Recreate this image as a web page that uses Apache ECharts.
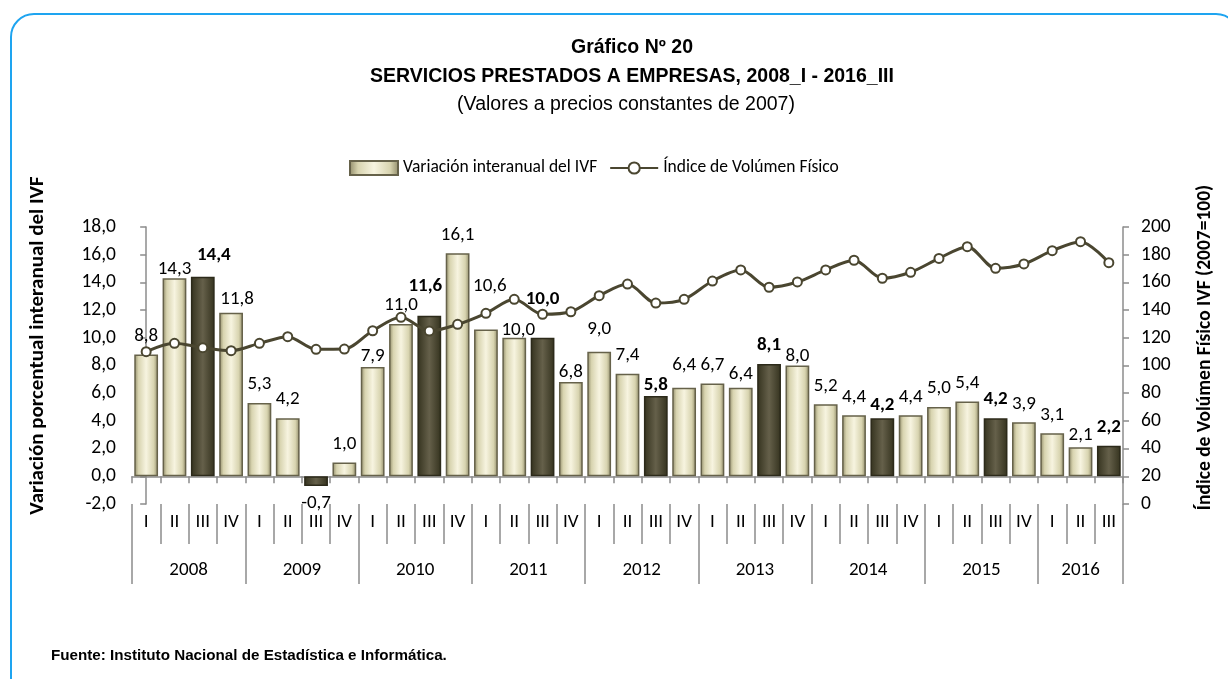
<!DOCTYPE html>
<html>
<head>
<meta charset="utf-8">
<script src="https://cdn.jsdelivr.net/npm/echarts@6/dist/echarts.min.js"></script>
<style>
  html, body { margin: 0; padding: 0; background: #fff; overflow: hidden; }
  #frame {
    position: absolute; left: 10px; top: 13px; width: 1230px; height: 700px;
    border: 2px solid #1ea4f0; border-radius: 24px; box-sizing: border-box;
  }
  #draw { position: absolute; left: 0; top: 0; width: 1228px; height: 679px; }
</style>
</head>
<body>
<div id="frame"></div>
<div id="draw"></div>
<script>
  // datos
  var quarters = ['I', 'II', 'III', 'IV', 'I', 'II', 'III', 'IV', 'I', 'II', 'III', 'IV',
    'I', 'II', 'III', 'IV', 'I', 'II', 'III', 'IV', 'I', 'II', 'III', 'IV',
    'I', 'II', 'III', 'IV', 'I', 'II', 'III', 'IV', 'I', 'II', 'III']
  var years = ['2008', '2009', '2010', '2011', '2012', '2013', '2014', '2015', '2016']
  var variacion = [8.8, 14.3, 14.4, 11.8, 5.3, 4.2, -0.7, 1.0, 7.9, 11.0, 11.6, 16.1,
    10.6, 10.0, 10.0, 6.8, 9.0, 7.4, 5.8, 6.4, 6.7, 6.4, 8.1, 8.0,
    5.2, 4.4, 4.2, 4.4, 5.0, 5.4, 4.2, 3.9, 3.1, 2.1, 2.2]
  var indice = [110.0, 116.0, 112.9, 110.7, 116.0, 120.8, 111.7, 111.9, 125.1, 134.8, 124.9, 129.7,
    137.7, 147.8, 137.0, 138.8, 150.4, 158.8, 145.1, 147.8, 161.0, 169.0, 156.5, 160.3,
    169.0, 176.0, 163.0, 167.3, 177.3, 185.8, 170.2, 173.3, 182.9, 189.4, 174.2]
  var leftTicks = { min: -2, max: 18, step: 2 }
  var rightTicks = { min: 0, max: 200, step: 20 }

  // ajustes manuales de etiquetas (px hacia arriba / derecha), como en el original
  var labelLift = { 1: -10, 2: 3, 3: -5, 8: -8, 10: 11, 12: 25, 13: -11, 14: 20, 15: -9, 16: 4,
    18: -8, 19: 4, 21: -5, 23: -9, 26: -6, 33: -7 }
  var labelShift = { 2: 11, 3: 6, 10: -4, 12: 4, 13: 4 }

  var labelFont = 'Carlito, Calibri, Lato, sans-serif'
  var lightBar = new echarts.graphic.LinearGradient(0, 0, 1, 0, [
    { offset: 0, color: '#8f8a68' },
    { offset: 0.18, color: '#d8d4b0' },
    { offset: 0.5, color: '#f7f4e0' },
    { offset: 0.82, color: '#d8d4b0' },
    { offset: 1, color: '#8f8a68' }
  ])
  var darkBar = new echarts.graphic.LinearGradient(0, 0, 1, 0, [
    { offset: 0, color: '#34321e' },
    { offset: 0.5, color: '#65604a' },
    { offset: 1, color: '#34321e' }
  ])

  function coma (v, d) {
    return v.toFixed(d).replace('.', ',')
  }

  var barData = variacion.map(function (v, i) {
    var item = { value: v, label: { offset: [labelShift[i] || 0, -(labelLift[i] || 0)] } }
    if (i % 4 === 2) {
      item.itemStyle = { color: darkBar, borderColor: '#2c2a1a' }
      if (v >= 0) item.label.fontWeight = 'bold'
    }
    if (v < 0) {
      item.label.position = 'bottom'
      item.label.distance = 8
    }
    return item
  })

  var yearTicks = []
  var yearLabels = []
  for (var y = 0; y < years.length; y++) {
    yearTicks.push(y * 4 - 0.5)
    var last = Math.min(y * 4 + 3, quarters.length - 1)
    yearLabels.push((y * 4 + last) / 2)
  }
  yearTicks.push(quarters.length - 0.5)

  var myChart = echarts.init(document.getElementById('draw'))
  myChart.setOption({
    animation: false,
    title: [{
      text: 'Gráfico Nº 20\nSERVICIOS PRESTADOS A EMPRESAS, 2008_I - 2016_III',
      left: 627,
      top: 28,
      textAlign: 'center',
      textStyle: { fontFamily: 'Liberation Sans', fontWeight: 'bold', fontSize: 19.5, lineHeight: 29, color: '#000' }
    }, {
      text: '(Valores a precios constantes de 2007)',
      left: 621,
      top: 90,
      textAlign: 'center',
      textStyle: { fontFamily: 'Liberation Sans', fontWeight: 'normal', fontSize: 19.5, color: '#000' }
    }, {
      text: 'Fuente: Instituto Nacional de Estadística e Informática.',
      left: 46,
      top: 643,
      textStyle: { fontFamily: 'Liberation Sans', fontWeight: 'bold', fontSize: 15.2, color: '#000' }
    }],
    legend: {
      left: 344,
      top: 154,
      itemWidth: 48,
      itemHeight: 14,
      itemGap: 12,
      textStyle: { fontFamily: labelFont, fontSize: 17.5, color: '#000' },
      data: [
        { name: 'Variación interanual del IVF', icon: 'rect' },
        { name: 'Índice de Volúmen Físico' }
      ]
    },
    grid: { left: 132, right: 105, top: 227, bottom: 175 },
    xAxis: [{
      type: 'category',
      data: quarters,
      axisLine: { onZero: true, lineStyle: { color: '#8c8c8c', width: 1.5 } },
      axisTick: { show: true, length: 7, lineStyle: { color: '#8c8c8c', width: 1.5 } },
      axisLabel: { show: false }
    }, {
      type: 'category',
      data: quarters,
      position: 'bottom',
      axisLine: { show: false, onZero: false },
      axisTick: { show: true, length: 40, interval: 0, lineStyle: { color: '#8c8c8c', width: 1.5 } },
      axisLabel: { interval: 0, margin: 9, fontFamily: labelFont, fontSize: 19, color: '#000' }
    }, {
      type: 'value',
      min: -0.5,
      max: quarters.length - 0.5,
      position: 'bottom',
      axisLine: { show: false, onZero: false },
      splitLine: { show: false },
      axisTick: { show: true, length: 80, customValues: yearTicks, lineStyle: { color: '#8c8c8c', width: 1.5 } },
      axisLabel: {
        margin: 57,
        customValues: yearLabels,
        fontFamily: labelFont,
        fontSize: 19,
        color: '#000',
        formatter: function (v) { return years[Math.floor((v + 0.5) / 4)] }
      }
    }],
    yAxis: [{
      type: 'value',
      min: leftTicks.min,
      max: leftTicks.max,
      interval: leftTicks.step,
      name: 'Variación porcentual interanual del IVF',
      nameLocation: 'middle',
      nameGap: 84,
      nameTextStyle: { fontFamily: labelFont, fontWeight: 'bold', fontSize: 21, color: '#000', padding: [0, 0, 0, 40] },
      axisLine: { show: true, lineStyle: { color: '#8c8c8c', width: 1.5 } },
      axisTick: { show: true, length: 6, lineStyle: { color: '#8c8c8c', width: 1.5 } },
      axisLabel: { margin: 16, fontFamily: labelFont, fontSize: 19.5, color: '#000', formatter: function (v) { return coma(v, 1) } },
      splitLine: { show: false }
    }, {
      type: 'value',
      position: 'right',
      min: rightTicks.min,
      max: rightTicks.max,
      interval: rightTicks.step,
      name: 'Índice de Volúmen Físico IVF (2007=100)',
      nameLocation: 'middle',
      nameRotate: 90,
      nameGap: 72,
      nameTextStyle: { fontFamily: labelFont, fontWeight: 'bold', fontSize: 19.5, color: '#000', padding: [0, 0, 0, 36] },
      axisLine: { show: true, lineStyle: { color: '#8c8c8c', width: 1.5 } },
      axisTick: { show: true, length: 6, lineStyle: { color: '#8c8c8c', width: 1.5 } },
      axisLabel: { margin: 18, fontFamily: labelFont, fontSize: 19.5, color: '#000' },
      splitLine: { show: false }
    }],
    series: [{
      name: 'Variación interanual del IVF',
      type: 'bar',
      xAxisIndex: 0,
      yAxisIndex: 0,
      barCategoryGap: '16%',
      itemStyle: { color: lightBar, borderColor: '#66624a', borderWidth: 1.5 },
      label: {
        show: true,
        position: 'top',
        distance: 9,
        fontFamily: labelFont,
        fontSize: 19,
        color: '#000',
        formatter: function (p) { return coma(p.value, 1) }
      },
      data: barData
    }, {
      name: 'Índice de Volúmen Físico',
      type: 'line',
      xAxisIndex: 0,
      yAxisIndex: 1,
      smooth: 0.3,
      symbol: 'circle',
      symbolSize: 9,
      lineStyle: { color: '#4a4630', width: 3 },
      itemStyle: { color: '#fff', borderColor: '#4a4630', borderWidth: 2 },
      data: indice
    }]
  })
</script>
</body>
</html>
